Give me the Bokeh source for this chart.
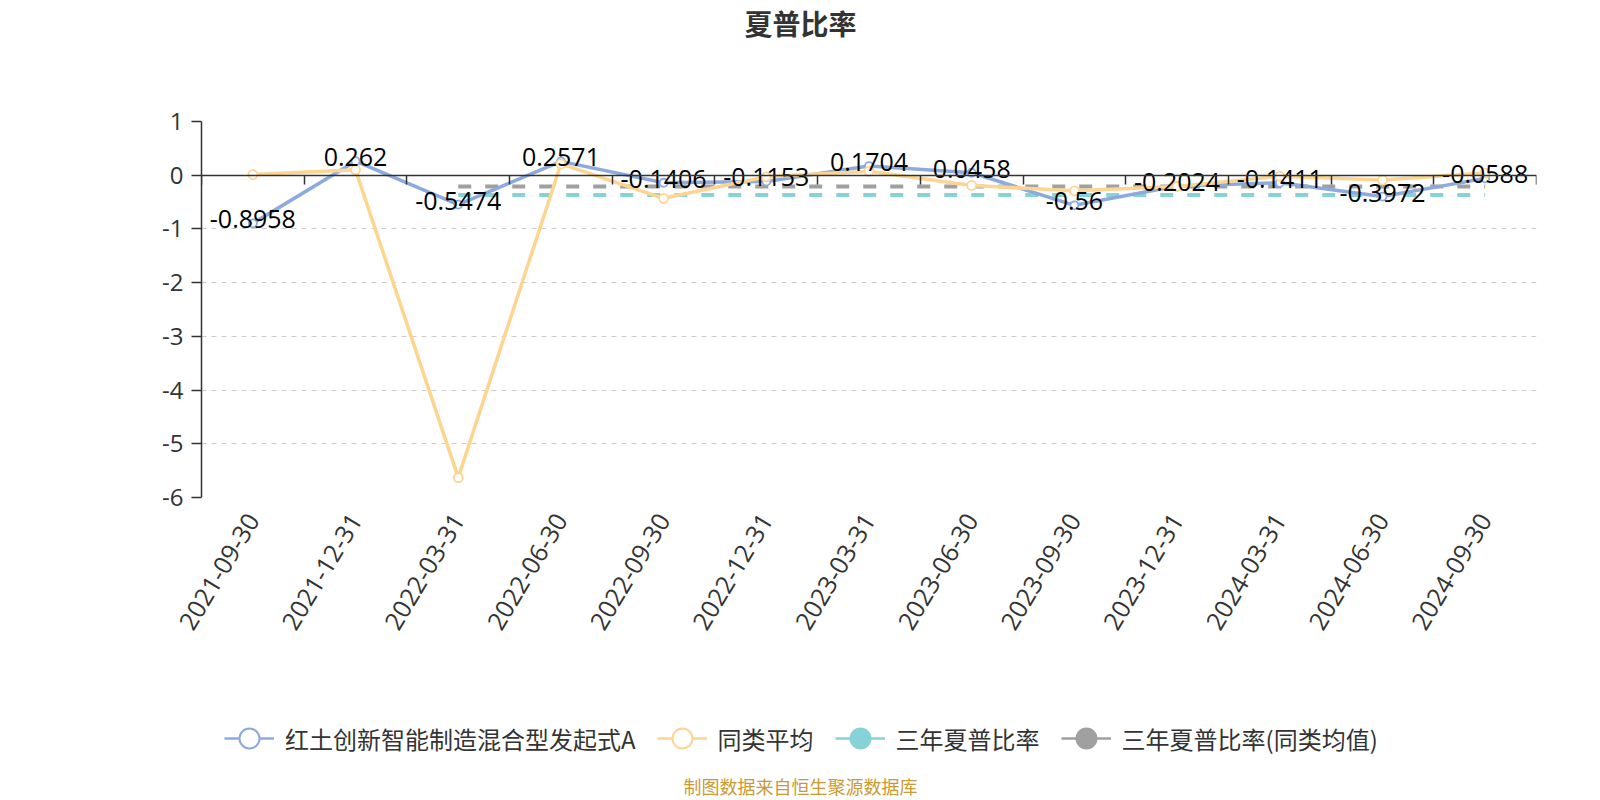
import math
from bokeh.plotting import figure
from bokeh.layouts import column
from bokeh.models import (Range1d, LinearAxis, FixedTicker, Legend, LegendItem, Label)
from bokeh.embed import file_html
from bokeh.resources import INLINE
from bokeh.core.properties import value

# ---------------- data ----------------
dates = ["2021-09-30", "2021-12-31", "2022-03-31", "2022-06-30", "2022-09-30",
         "2022-12-31", "2023-03-31", "2023-06-30", "2023-09-30", "2023-12-31",
         "2024-03-31", "2024-06-30", "2024-09-30"]
fund = [-0.8958, 0.262, -0.5474, 0.2571, -0.1406, -0.1153, 0.1704, 0.0458,
        -0.56, -0.2024, -0.1411, -0.3972, -0.0588]
peer = [0.01, 0.10, -5.63, 0.21, -0.43, -0.03, 0.075, -0.19, -0.29, -0.21,
        -0.02, -0.09, 0.04]
three_year_fund = -0.37
three_year_peer = -0.21
three_year_start = "2022-03-31"
y_ticks = [-6, -5, -4, -3, -2, -1, 0, 1]

series_names = ["红土创新智能制造混合型发起式A", "同类平均", "三年夏普比率", "三年夏普比率(同类均值)"]
title_text = "夏普比率"
footer_text = "制图数据来自恒生聚源数据库"

# ---------------- style ----------------
BLUE = "#8caade"
YELLOW = "#fdd591"
TEAL = "#86d3d7"
GRAY = "#a0a0a0"
AXIS = "#333333"
NUM_FONT = "Open Sans"
CJK_FONT = "Noto Sans CJK SC"
W = 1600

idx = list(range(len(dates)))
n = len(dates)


def blank_figure(height):
    f = figure(width=W, height=height, output_backend="svg", toolbar_location=None,
               x_range=Range1d(1000, 1001), y_range=Range1d(1000, 1001),
               x_axis_location=None, y_axis_location=None,
               min_border_left=0, min_border_right=0,
               min_border_top=0, min_border_bottom=0)
    f.outline_line_color = None
    f.xgrid.visible = False
    f.ygrid.visible = False
    return f


# ---------------- title ----------------
top = blank_figure(90)
top.add_layout(Label(x=599, y=68, x_units="screen", y_units="screen",
                     text=title_text, text_align="center", text_baseline="middle",
                     text_font=CJK_FONT, text_font_size="28px",
                     text_font_style="bold", text_color=AXIS))

# ---------------- main chart ----------------
p = figure(width=W, height=600, output_backend="svg", toolbar_location=None,
           x_range=Range1d(-0.5, n - 0.5), y_range=Range1d(-6, 1),
           min_border_left=201, min_border_right=64, min_border_top=31,
           min_border_bottom=193)
p.outline_line_color = None

yax = p.yaxis[0]
yax.ticker = FixedTicker(ticks=y_ticks)
yax.major_label_overrides = {v: str(v) for v in y_ticks}
yax.axis_line_color = AXIS
yax.axis_line_width = 1.5
yax.major_tick_line_color = AXIS
yax.major_tick_line_width = 1.5
yax.major_tick_out = 10
yax.major_tick_in = 0
yax.minor_tick_line_color = None
yax.major_label_text_font = NUM_FONT
yax.major_label_text_font_size = "24px"
yax.major_label_text_color = AXIS
yax.major_label_standoff = 8

p.ygrid.ticker = FixedTicker(ticks=y_ticks)
p.ygrid.grid_line_color = "#cccccc"
p.ygrid.grid_line_dash = "5 5"
p.ygrid.grid_line_width = 1
p.xgrid.visible = False

xax = p.xaxis[0]
xax.ticker = FixedTicker(ticks=idx)
xax.major_label_overrides = {i: d for i, d in enumerate(dates)}
xax.axis_line_color = None
xax.major_tick_line_color = None
xax.minor_tick_line_color = None
xax.major_label_orientation = math.radians(59)
xax.major_label_text_font = NUM_FONT
xax.major_label_text_font_size = "25px"
xax.major_label_text_color = AXIS
xax.major_label_standoff = 12

bounds = [i - 0.5 for i in range(n + 1)]
zero_axis = LinearAxis(fixed_location=0, ticker=FixedTicker(ticks=bounds),
                       major_label_overrides={b: "" for b in bounds},
                       major_label_text_font_size="0px",
                       axis_line_color=AXIS, axis_line_width=1.5,
                       major_tick_line_color=AXIS, major_tick_line_width=1.5,
                       major_tick_out=9, major_tick_in=0,
                       minor_tick_line_color=None)
p.add_layout(zero_axis, "below")

s = dates.index(three_year_start)
x3 = idx[s:]
p.line(x=x3, y=[three_year_fund] * len(x3), line_color=TEAL, line_width=4,
       line_dash="13 14")
p.line(x=x3, y=[three_year_peer] * len(x3), line_color=GRAY, line_width=4,
       line_dash="13 14")

p.line(x=idx, y=fund, line_color=BLUE, line_width=3.5)
p.scatter(x=idx, y=fund, size=8, marker="circle", fill_color="white",
          line_color=BLUE, line_width=1.8)
p.line(x=idx, y=peer, line_color=YELLOW, line_width=3.5)
p.scatter(x=idx, y=peer, size=9, marker="circle", fill_color="white",
          line_color=YELLOW, line_width=1.8)

p.text(x=idx, y=fund, text=[str(v) for v in fund], text_align="center",
       text_baseline="middle", text_font=value(NUM_FONT), text_font_size="25px",
       text_color="black", y_offset=-4)

# ---------------- legend + footer ----------------
# legend renderers carry the real series but sit outside this strip's ranges
bot = blank_figure(110)
colors = [BLUE, YELLOW, TEAL, GRAY]
fills = ["white", "white", TEAL, GRAY]
series_y = [fund, peer, fund, peer]
items = []
for name, c, fc, ys in zip(series_names, colors, fills, series_y):
    rl = bot.line(x=idx, y=ys, line_color=c, line_width=2.5)
    rs = bot.scatter(x=idx, y=ys, marker="circle", fill_color=fc, line_color=c,
                     line_width=2)
    items.append(LegendItem(label=name, renderers=[rl, rs]))

legend = Legend(items=items, orientation="horizontal", location=(23, 33),
                glyph_width=50, glyph_height=58, label_standoff=11, spacing=21,
                padding=0, margin=0, border_line_color=None,
                background_fill_alpha=0, label_text_font=CJK_FONT,
                label_text_font_size="24px", label_text_color=AXIS,
                label_text_baseline="middle")
bot.add_layout(legend)
bot.add_layout(Label(x=599, y=15, x_units="screen", y_units="screen",
                     text=footer_text, text_align="center", text_baseline="middle",
                     text_font=CJK_FONT, text_font_size="18px",
                     text_color="#c99a35"))

layout = column(top, p, bot, spacing=0)
open("out.html", "w").write(file_html(layout, INLINE))
